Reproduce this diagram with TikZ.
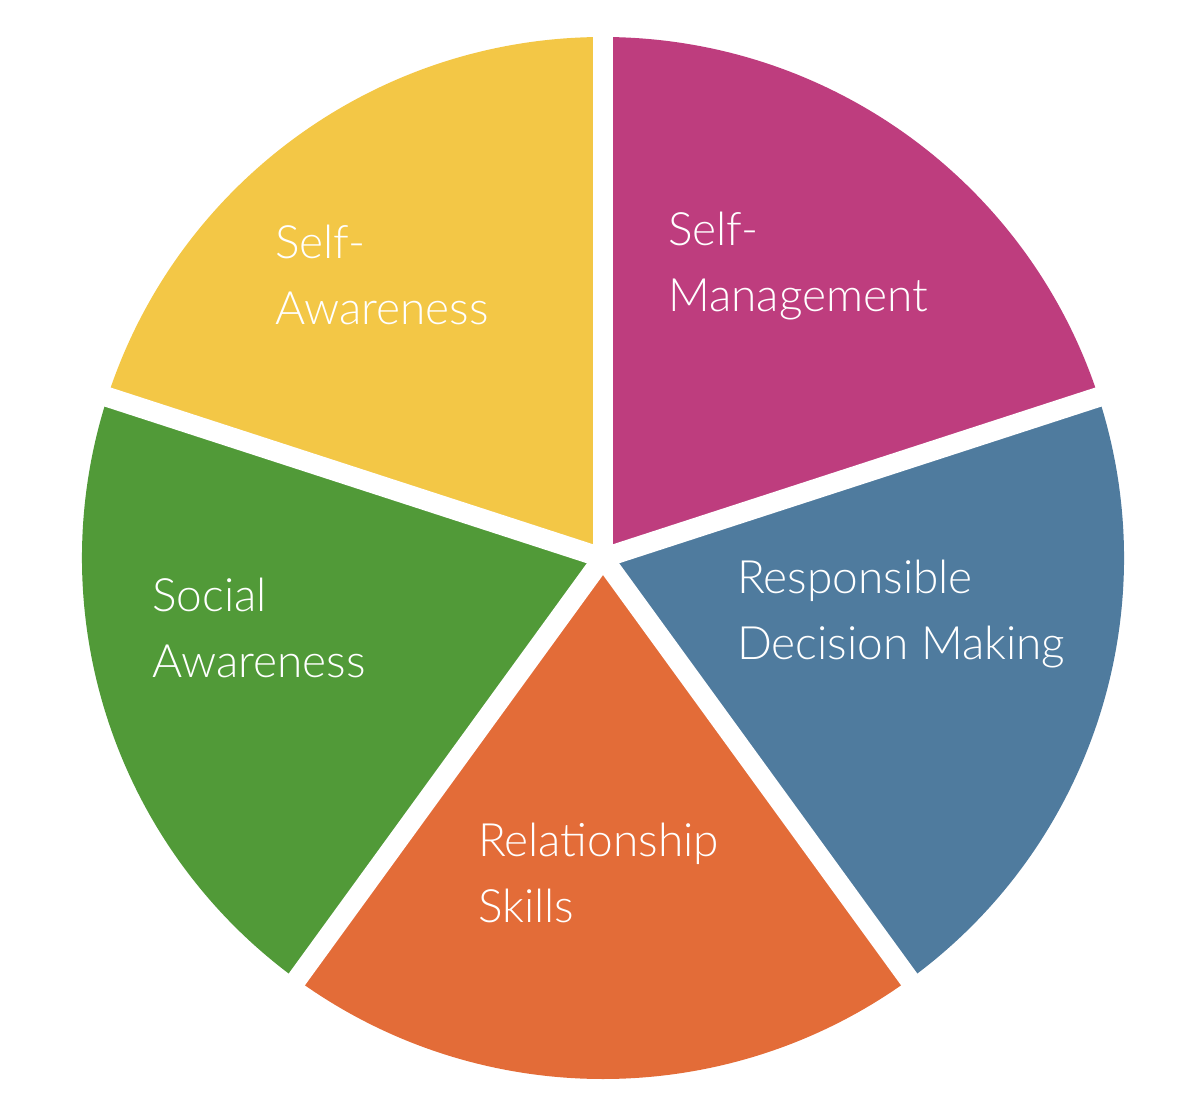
\documentclass[tikz,border=0pt]{standalone}
\usepackage{fontspec}
\setmainfont{Lato Light}
\definecolor{cyel}{HTML}{F3C746}
\definecolor{cmag}{HTML}{BE3D7E}
\definecolor{cblu}{HTML}{4F7B9E}
\definecolor{cora}{HTML}{E36C38}
\definecolor{cgrn}{HTML}{519A38}
\begin{document}
\begin{tikzpicture}[x=1pt,y=-1pt,
  lbl/.style={text=white,anchor=north west,align=left,font=\fontsize{46}{66}\selectfont,inner sep=0pt},
  gap/.style={white,line width=20pt}]
\useasboundingbox (0,0) rectangle (1200,1103);
\coordinate (c) at (603,558);
\def\R{521}
\fill[cmag] (c) -- ++(90:-\R) arc[start angle=-90,end angle=-18,radius=\R] -- cycle;
\fill[cblu] (c) -- ++(-18:\R) arc[start angle=-18,end angle=54,radius=\R] -- cycle;
\fill[cora] (c) -- ++(54:\R) arc[start angle=54,end angle=126,radius=\R] -- cycle;
\fill[cgrn] (c) -- ++(126:\R) arc[start angle=126,end angle=198,radius=\R] -- cycle;
\fill[cyel] (c) -- ++(198:\R) arc[start angle=198,end angle=270,radius=\R] -- cycle;
\foreach \a in {-90,-18,54,126,198} \draw[gap] (c) -- ++(\a:540);
\node[lbl] (sa) at (275,225) {Self-\\Awareness};
\node[lbl] (sm) at (668,212) {Self-\\Management};
\node[lbl] (rd) at (737,560) {Responsible\\Decision Making};
\node[lbl] (so) at (152,578) {Social\\Awareness};
\node[lbl] (rs) at (478,823) {Relationship\\Skills};
\end{tikzpicture}
\end{document}
